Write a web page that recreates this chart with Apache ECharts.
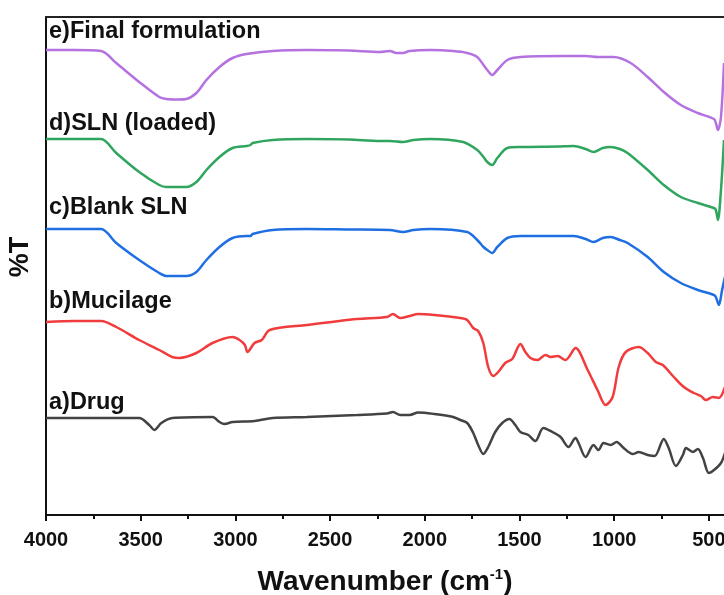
<!DOCTYPE html>
<html>
<head>
<meta charset="utf-8">
<script src="https://cdn.jsdelivr.net/npm/echarts@6/dist/echarts.min.js"></script>
<style>html,body{margin:0;padding:0;background:#fff}#c{width:724px;height:595px}</style>
</head>
<body>
<div id="c"></div>
<script>
var tickLabels = [4000, 3500, 3000, 2500, 2000, 1500, 1000, 500];
var minorTicks = [3750, 3250, 2750, 2250, 1750, 1250, 750];
var seriesNames = ['e)Final formulation', 'd)SLN (loaded)', 'c)Blank SLN', 'b)Mucilage', 'a)Drug'];
var colors = ['#b472e0', '#2fa55e', '#1f6fe3', '#f03c3c', '#434343'];

var finalFormulation = [[4000,465],[3850,465],[3709,464],[3629,452],[3508,433],[3402,418],[3365,416],[3300,415.5],[3259,416],[3206,422],[3153,435],[3084,448],[3015,457],[2941,461],[2803,464],[2623,465],[2400,464.5],[2237,463],[2184,464],[2150,462],[2115,462],[2080,464],[1972,465],[1850,464],[1776,462],[1723,458],[1690,450],[1670,445],[1644,440],[1617,445],[1564,455],[1495,458],[1268,459],[1150,459],[1087,458],[1003,458],[913,452],[823,438],[738,423],[648,410],[558,402],[473,396],[463,392],[452,385],[436,398],[420,452]];
var slnLoaded = [[4000,376],[3850,376],[3709,376],[3629,362],[3508,343],[3402,330],[3365,328],[3300,328],[3259,328],[3206,333],[3153,345],[3084,358],[3015,367],[2941,369],[2920,370],[2909,372],[2803,375],[2623,376],[2400,375.5],[2237,374],[2184,374],[2115,373],[2060,375],[1972,376],[1797,373],[1723,365],[1690,358],[1670,353],[1644,350],[1617,357],[1564,367],[1495,368],[1300,368.5],[1215,369],[1150,366],[1109,363],[1060,367],[1019,368],[970,366],[929,362],[823,345],[738,330],[648,318],[558,312],[473,307],[463,305],[452,295],[436,325],[420,375]];
var blankSLN = [[4000,286],[3850,286],[3709,286],[3629,272],[3508,255],[3402,242],[3365,239],[3300,239],[3259,239],[3206,243],[3153,255],[3084,268],[3015,277],[2941,279],[2920,279],[2909,281],[2803,285],[2623,286],[2400,285.5],[2184,285],[2115,283],[2060,285],[1972,286],[1776,283],[1723,275],[1690,268],[1670,265],[1644,262],[1617,268],[1564,277],[1495,279],[1300,279],[1215,279],[1150,276],[1109,273],[1060,277],[1019,278],[970,275],[929,272],[823,258],[738,243],[648,232],[558,225],[473,220],[463,218],[447,210],[430,225],[415,238]];
var mucilage = [[4000,193],[3850,194],[3709,194],[3629,188],[3508,175],[3402,165],[3333,158],[3296,157],[3206,162],[3121,172],[3015,178],[2978,175],[2950,170],[2936,163],[2899,172],[2861,175],[2819,185],[2623,190],[2358,196],[2200,198],[2168,201],[2130,197],[2080,199],[2035,201],[1950,200],[1813,197],[1776,195],[1744,187],[1718,184],[1691,172],[1665,148],[1638,139],[1612,143],[1575,152],[1538,156],[1495,171],[1469,163],[1442,157],[1405,155],[1363,160],[1336,158],[1299,159],[1257,155],[1204,167],[1140,145],[1088,125],[1045,110],[1008,118],[976,148],[939,163],[870,168],[823,162],[780,153],[743,150],[685,138],[632,128],[579,122],[542,119],[516,115],[479,118],[447,117],[415,128]];
var drug = [[4000,97],[3850,97],[3508,97],[3455,90],[3428,85],[3391,92],[3333,97],[3121,98],[3084,93],[3057,91],[3015,93],[2899,94],[2803,97],[2623,98],[2358,100],[2200,101.5],[2168,103],[2130,100],[2080,100],[2035,102.5],[1950,101],[1850,98],[1813,95],[1776,92],[1744,82],[1718,70],[1691,61],[1665,68],[1628,83],[1591,92],[1553,96],[1522,90],[1495,83],[1453,80],[1416,74],[1374,87],[1326,83],[1283,78],[1241,68],[1204,77],[1188,72],[1151,58],[1109,70],[1083,65],[1056,72],[1019,70],[987,73],[950,67],[902,61],[870,63],[823,60],[786,59],[738,76],[712,67],[674,49],[637,60],[621,67],[584,63],[558,66],[531,57],[500,42],[473,45],[436,52],[415,62]];

var allData = [finalFormulation, slnLoaded, blankSLN, mucilage, drug];
var labelTops = [20, 112, 196, 290, 391];

var FONT = "'Liberation Sans', Arial, sans-serif";
var chart = echarts.init(document.getElementById('c'), null, {renderer: 'canvas'});
var xCommon = {type: 'value', inverse: true, min: 420, max: 4000, splitLine: {show: false}};
var option = {
  animation: false,
  backgroundColor: '#fff',
  grid: {left: 46, right: 0, top: 17, bottom: 80, containLabel: false, outerBoundsMode: 'none'},
  xAxis: [
    Object.assign({}, xCommon, {
      position: 'bottom',
      axisLine: {show: true, lineStyle: {color: '#111', width: 2}},
      axisTick: {show: true, customValues: tickLabels, length: 6, lineStyle: {color: '#111', width: 2}},
      axisLabel: {customValues: tickLabels, color: '#111', fontFamily: FONT, fontWeight: 'bold', fontSize: 20, margin: 15,
        formatter: function (v) { return String(v); }},
      name: 'Wavenumber (cm{sup|-1})',
      nameLocation: 'middle', nameGap: 52,
      nameTextStyle: {color: '#111', fontFamily: FONT, fontWeight: 'bold', fontSize: 28,
        rich: {sup: {fontSize: 15, fontFamily: FONT, fontWeight: 'bold', color: '#111', verticalAlign: 'top', padding: [0,0,15,0]}}}
    }),
    Object.assign({}, xCommon, {
      position: 'bottom',
      axisLine: {show: false},
      axisTick: {show: true, customValues: minorTicks, length: 4, lineStyle: {color: '#111', width: 2}},
      axisLabel: {show: false}
    }),
    Object.assign({}, xCommon, {
      position: 'top',
      axisLine: {show: true, lineStyle: {color: '#222', width: 2}},
      axisTick: {show: false},
      axisLabel: {show: false}
    })
  ],
  yAxis: {
    type: 'value', min: 0, max: 498,
    axisLine: {show: true, lineStyle: {color: '#111', width: 2}},
    axisTick: {show: false}, axisLabel: {show: false}, splitLine: {show: false},
    name: '%T', nameLocation: 'middle', nameGap: 12, nameRotate: 90,
    nameTextStyle: {color: '#111', fontFamily: FONT, fontWeight: 'bold', fontSize: 27, padding: [0, 0, 0, 18]}
  },
  series: allData.map(function (d, i) {
    return {
      name: seriesNames[i], type: 'line', data: d, xAxisIndex: 0,
      showSymbol: false, smooth: 0.3, clip: true,
      lineStyle: {color: colors[i], width: 2.5}, itemStyle: {color: colors[i]}
    };
  }),
  graphic: seriesNames.map(function (n, i) {
    return {type: 'text', left: 49, top: labelTops[i], silent: true,
      style: {text: n, fill: '#111', font: 'bold 23.5px ' + FONT}};
  })
};
chart.setOption(option);
</script>
</body>
</html>
